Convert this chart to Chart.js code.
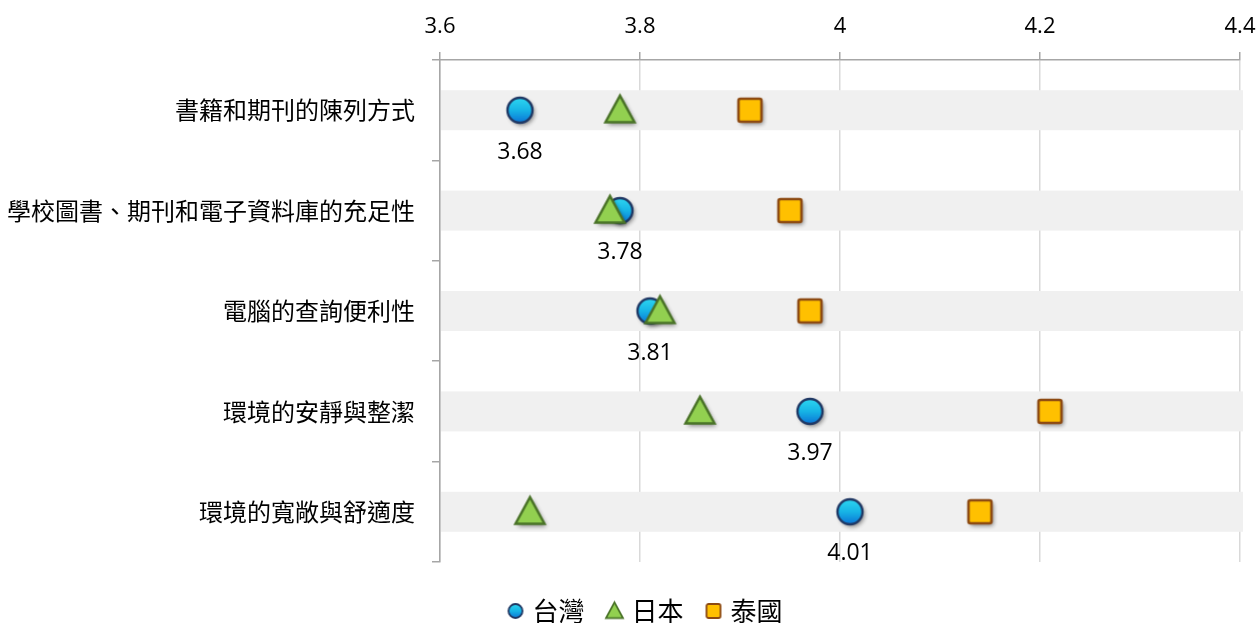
<!DOCTYPE html>
<html>
<head>
<meta charset="utf-8">
<script src="https://cdn.jsdelivr.net/npm/chart.js@4/dist/chart.umd.min.js"></script>
<style>
  html, body { margin: 0; padding: 0; background: #fff; }
  #wrap { width: 1259px; height: 623px; }
</style>
</head>
<body>
<div id="wrap"><canvas id="chart"></canvas></div>
<script>
// library satisfaction survey: mean scores per item, by country
const CATEGORIES = [
  "書籍和期刊的陳列方式",
  "學校圖書、期刊和電子資料庫的充足性",
  "電腦的查詢便利性",
  "環境的安靜與整潔",
  "環境的寬敞與舒適度"
];
const SERIES_NAMES = ["台灣", "日本", "泰國"];
const TAIWAN = [3.68, 3.78, 3.81, 3.97, 4.01];
const JAPAN = [3.78, 3.77, 3.82, 3.86, 3.69];
const THAILAND = [3.91, 3.95, 3.97, 4.21, 4.14];
const X_MIN = 3.6, X_MAX = 4.4, X_STEP = 0.2;

const NUM_FONT = "'Open Sans', 'Noto Sans CJK TC', sans-serif";
const CJK_FONT = "'Noto Sans CJK TC', 'Open Sans', sans-serif";

// marker sprites: drawn once on small canvases, used as pointStyle
function makeMarker(shape, size, shadow) {
  const pad = shadow ? 8 : 3;
  const c = document.createElement("canvas");
  const w = Math.ceil(size + pad * 2);
  c.width = w; c.height = w;
  const g = c.getContext("2d");
  const cx = w / 2, cy = w / 2, r = size / 2;
  if (shadow) {
    g.shadowColor = "rgba(0,0,0,0.45)";
    g.shadowBlur = 4;
    g.shadowOffsetX = 2;
    g.shadowOffsetY = 2.5;
  }
  g.beginPath();
  if (shape === "circle") {
    g.arc(cx, cy, r - 1, 0, Math.PI * 2);
    const grad = g.createLinearGradient(0, cy - r, 0, cy + r);
    grad.addColorStop(0, "#2fd9f2");
    grad.addColorStop(0.5, "#17b4e6");
    grad.addColorStop(1, "#0a6fd4");
    g.fillStyle = grad;
    g.strokeStyle = "#203864";
    g.lineWidth = size > 20 ? 2.4 : 1.8;
  } else if (shape === "triangle") {
    const h = size * 0.92;
    g.moveTo(cx, cy - h * 0.55);
    g.lineTo(cx + r, cy + h * 0.45);
    g.lineTo(cx - r, cy + h * 0.45);
    g.closePath();
    g.fillStyle = "#92d050";
    g.strokeStyle = "#4a7328";
    g.lineWidth = size > 20 ? 2.5 : 1.8;
    g.lineJoin = "miter";
  } else {
    const s = size - 2;
    g.roundRect(cx - s / 2, cy - s / 2, s, s, 2);
    g.fillStyle = "#ffc000";
    g.strokeStyle = "#8d4a12";
    g.lineWidth = size > 20 ? 2.6 : 1.8;
  }
  g.fill();
  g.shadowColor = "transparent";
  g.stroke();
  return c;
}

const MARKERS = [
  makeMarker("circle", 27, true),
  makeMarker("triangle", 29, true),
  makeMarker("square", 25, true)
];
const LEGEND_MARKERS = [
  makeMarker("circle", 16, false),
  makeMarker("triangle", 17, false),
  makeMarker("square", 16, false)
];

// light grey band behind every category row
const rowBands = {
  id: "rowBands",
  beforeDatasetsDraw(chart) {
    const { ctx, chartArea, scales } = chart;
    ctx.save();
    ctx.fillStyle = "#f0f0f0";
    CATEGORIES.forEach((_, i) => {
      const y = scales.y.getPixelForValue(i);
      ctx.fillRect(chartArea.left + 1, y - 20, chartArea.right - chartArea.left + 2, 40);
    });
    ctx.restore();
  }
};

// value labels under the Taiwan markers
const taiwanLabels = {
  id: "taiwanLabels",
  afterDatasetsDraw(chart) {
    const { ctx } = chart;
    const meta = chart.getDatasetMeta(0);
    ctx.save();
    ctx.font = "23px " + NUM_FONT;
    ctx.fillStyle = "#000";
    ctx.textAlign = "center";
    ctx.textBaseline = "middle";
    meta.data.forEach((pt, i) => {
      ctx.fillText(TAIWAN[i].toFixed(2), pt.x, pt.y + 42);
    });
    ctx.restore();
  }
};

// legend sits a little right of the canvas centre
const legendShift = {
  id: "legendShift",
  afterLayout(chart) {
    if (chart.legend) {
      chart.legend.left += 27;
      chart.legend.right += 27;
    }
  }
};

const values = [TAIWAN, JAPAN, THAILAND];

new Chart(document.getElementById("chart"), {
  type: "line",
  data: {
    labels: CATEGORIES,
    datasets: SERIES_NAMES.map((name, i) => ({
      label: name,
      data: values[i],
      showLine: false,
      pointStyle: MARKERS[i],
      pointRadius: 14,
      pointHoverRadius: 14,
      order: 3 - i
    }))
  },
  options: {
    indexAxis: "y",
    responsive: true,
    maintainAspectRatio: false,
    animation: false,
    layout: { padding: { left: 0, right: 19, top: 0, bottom: -11 } },
    scales: {
      x: {
        type: "linear",
        position: "top",
        min: X_MIN,
        max: X_MAX,
        afterFit: s => { s.height = 60; s.paddingLeft = 0; s.paddingRight = 0; },
        ticks: {
          stepSize: X_STEP,
          padding: 12,
          color: "#000",
          font: { family: NUM_FONT, size: 22 },
          callback: v => String(+Number(v).toFixed(1))
        },
        grid: { color: "#d9d9d9", tickColor: "#a6a6a6", tickLength: 8, lineWidth: 1.5 },
        border: { color: "#a6a6a6", width: 1.5 }
      },
      y: {
        type: "category",
        offset: true,
        afterFit: s => { s.width = 440; },
        ticks: {
          padding: 17,
          color: "#000",
          font: { family: CJK_FONT, size: 24 }
        },
        grid: { drawOnChartArea: false, offset: true, tickColor: "#a6a6a6", tickLength: 8, lineWidth: 1.5 },
        border: { color: "#a6a6a6", width: 1.5 }
      },
      gap: {
        type: "linear",
        position: "bottom",
        display: true,
        afterFit: s => { s.height = 10; },
        ticks: { display: false },
        grid: { display: false },
        border: { display: false }
      }
    },
    plugins: {
      legend: {
        position: "bottom",
        labels: {
          usePointStyle: true,
          boxWidth: 8,
          boxHeight: 16,
          padding: 26,
          color: "#000",
          font: { family: CJK_FONT, size: 26 },
          sort: (a, b) => a.datasetIndex - b.datasetIndex,
          generateLabels: chart => SERIES_NAMES.map((name, i) => ({
            text: name,
            datasetIndex: i,
            pointStyle: LEGEND_MARKERS[i],
            fillStyle: "transparent",
            strokeStyle: "transparent",
            lineWidth: 0,
            hidden: false
          }))
        }
      },
      tooltip: { enabled: false }
    }
  },
  plugins: [rowBands, taiwanLabels, legendShift]
});
</script>
</body>
</html>
